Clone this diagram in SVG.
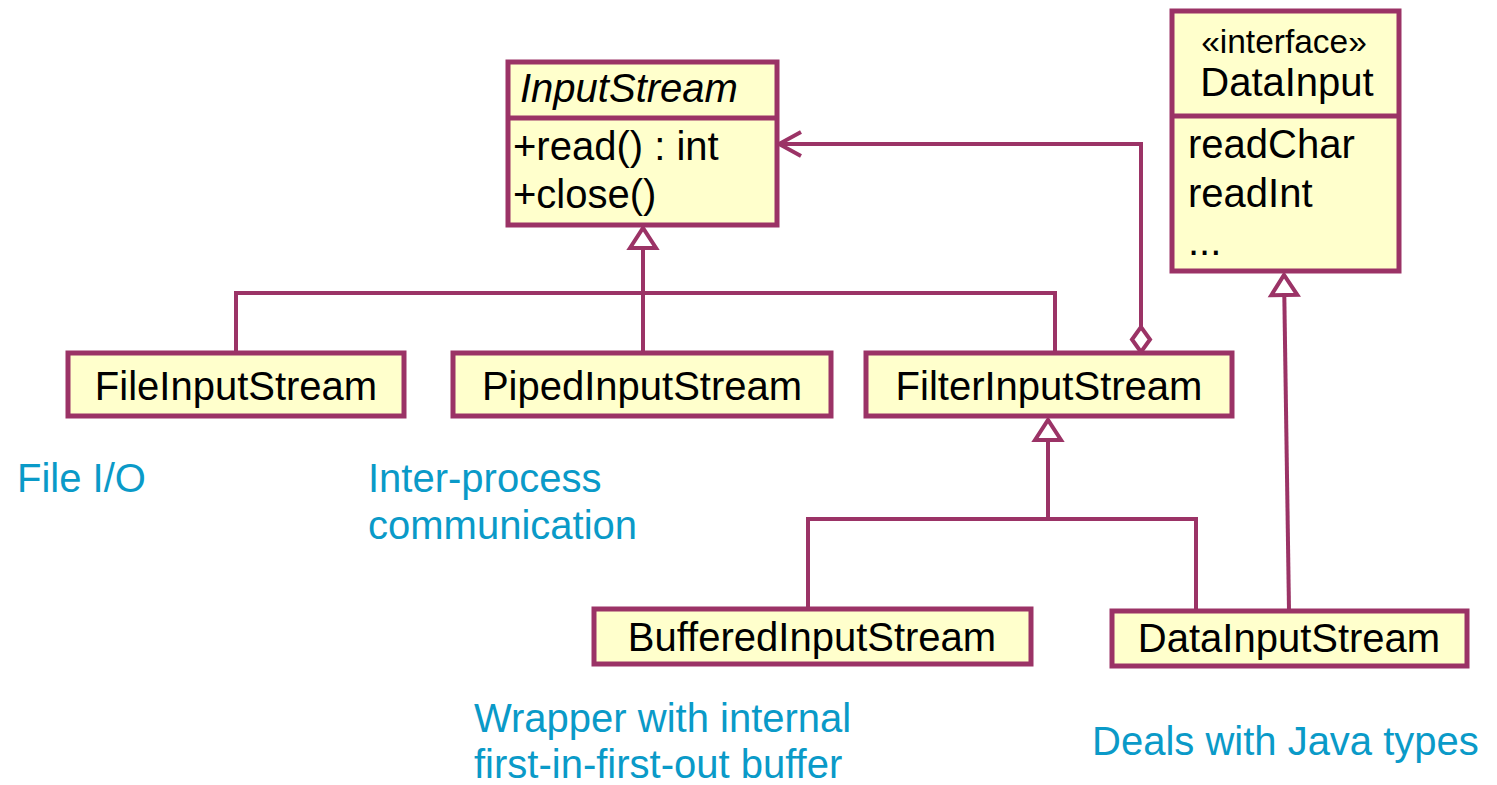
<svg xmlns="http://www.w3.org/2000/svg" width="1497" height="785" viewBox="0 0 1497 785">
  <style>
    .box { fill: #FFFFCC; stroke: #9B3366; stroke-width: 5; }
    .div { stroke: #9B3366; stroke-width: 5; }
    .conn { fill: none; stroke: #9B3366; stroke-width: 4; }
    .t { font-family: "Liberation Sans", Arial, sans-serif; font-size: 40px; fill: #000; }
    .c { text-anchor: middle; }
    .stereo { font-size: 33.5px; }
    .note { font-family: "Liberation Sans", Arial, sans-serif; font-size: 40px; fill: #0A9AC8; }
  </style>
  <defs>
    <!-- hollow triangle: generalization -->
    <marker id="gen" viewBox="-4 -17 28 34" refX="20" refY="0" markerWidth="28" markerHeight="34" markerUnits="userSpaceOnUse" orient="auto">
      <path d="M0,-13 L20,0 L0,13 Z" fill="#fff" stroke="#9B3366" stroke-width="4" stroke-linejoin="miter"/>
    </marker>
    <!-- open arrow: navigability -->
    <marker id="open" viewBox="-26 -16 30 32" refX="0" refY="0" markerWidth="30" markerHeight="32" markerUnits="userSpaceOnUse" orient="auto">
      <path d="M-22,-12 L0,0 L-22,12" fill="none" stroke="#9B3366" stroke-width="4"/>
    </marker>
    <!-- hollow diamond: aggregation -->
    <marker id="agg" viewBox="-3 -12 31 24" refX="0" refY="0" markerWidth="31" markerHeight="24" markerUnits="userSpaceOnUse" orient="auto">
      <path d="M0,0 L12.5,-9 L25,0 L12.5,9 Z" fill="#fff" stroke="#9B3366" stroke-width="4"/>
    </marker>
  </defs>

  <g id="connectors">
    <!-- subclasses of InputStream -->
    <path class="conn" d="M236,352 V293 H1055 V352"/>
    <path class="conn" d="M643,352 V228" marker-end="url(#gen)"/>
    <!-- FilterInputStream wraps an InputStream -->
    <path class="conn" d="M1141,352 V144 H779" marker-start="url(#agg)" marker-end="url(#open)"/>
    <!-- subclasses of FilterInputStream -->
    <path class="conn" d="M808,608 V519 H1196 V610"/>
    <path class="conn" d="M1048,519 V420" marker-end="url(#gen)"/>
    <!-- DataInputStream implements DataInput -->
    <path class="conn" d="M1289,610 L1284,275" marker-end="url(#gen)"/>
  </g>

  <g id="InputStream">
    <rect class="box" x="508" y="62" width="269" height="163"/>
    <line class="div" x1="508" y1="118" x2="777" y2="118"/>
    <text class="t" x="520" y="102" font-style="italic">InputStream</text>
    <text class="t" x="513" y="160">+read() : int</text>
    <text class="t" x="513" y="208">+close()</text>
  </g>

  <g id="DataInput">
    <rect class="box" x="1172" y="11" width="227" height="260"/>
    <line class="div" x1="1172" y1="116" x2="1399" y2="116"/>
    <text class="t c stereo" x="1284" y="53">«interface»</text>
    <text class="t c" x="1287" y="96">DataInput</text>
    <text class="t" x="1188" y="158">readChar</text>
    <text class="t" x="1188" y="207">readInt</text>
    <text class="t" x="1188" y="255">...</text>
  </g>

  <g id="FileInputStream">
    <rect class="box" x="68" y="353" width="336" height="63"/>
    <text class="t c" x="236" y="400">FileInputStream</text>
  </g>

  <g id="PipedInputStream">
    <rect class="box" x="453" y="353" width="378" height="63"/>
    <text class="t c" x="642" y="400">PipedInputStream</text>
  </g>

  <g id="FilterInputStream">
    <rect class="box" x="866" y="353" width="366" height="63"/>
    <text class="t c" x="1049" y="400">FilterInputStream</text>
  </g>

  <g id="BufferedInputStream">
    <rect class="box" x="594" y="609" width="437" height="55"/>
    <text class="t c" x="812" y="651">BufferedInputStream</text>
  </g>

  <g id="DataInputStream">
    <rect class="box" x="1112" y="611" width="355" height="55"/>
    <text class="t c" x="1289" y="652">DataInputStream</text>
  </g>

  <g id="notes">
    <text class="note" x="17" y="492">File I/O</text>
    <text class="note" x="368" y="492">Inter-process</text>
    <text class="note" x="368" y="539">communication</text>
    <text class="note" x="474" y="732">Wrapper with internal</text>
    <text class="note" x="474" y="778">first-in-first-out buffer</text>
    <text class="note" x="1092" y="755">Deals with Java types</text>
  </g>
</svg>
